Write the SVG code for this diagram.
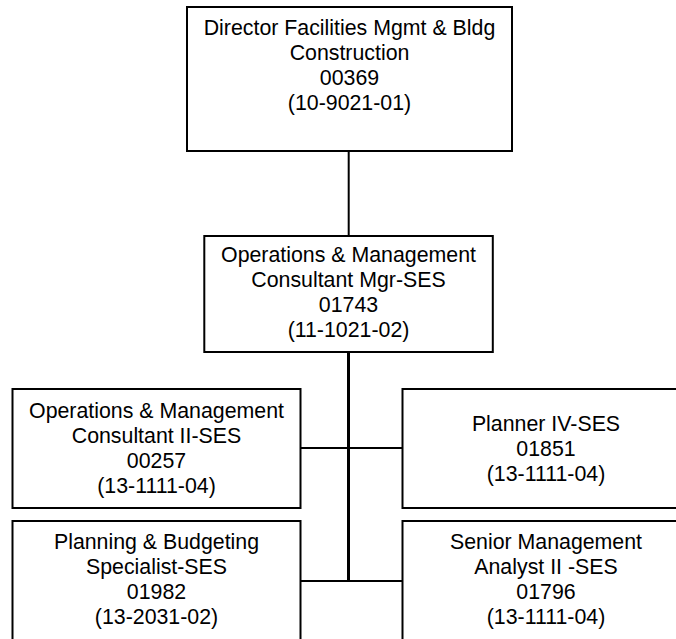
<svg xmlns="http://www.w3.org/2000/svg" width="676" height="639" viewBox="0 0 676 639">
  <style>
    .box { fill: #ffffff; stroke: #000000; stroke-width: 2; }
    .lbl { font-family: "Liberation Sans", Arial, sans-serif; font-size: 21.33px; fill: #000000; text-anchor: middle; }
    .conn { fill: none; stroke: #000000; stroke-width: 2; }
    .trunk { stroke-width: 3; }
  </style>
  <rect width="676" height="639" fill="#ffffff"/>

  <!-- reporting lines -->
  <g id="connectors">
    <line class="conn" x1="348.7" y1="151" x2="348.7" y2="236"/>
    <line class="conn trunk" x1="348.5" y1="352" x2="348.5" y2="581"/>
    <line class="conn" x1="300.5" y1="448" x2="402.5" y2="448"/>
    <line class="conn" x1="300.5" y1="581" x2="402.5" y2="581"/>
  </g>

  <g id="n00369">
    <rect class="box" x="187" y="7" width="325" height="144"/>
    <text class="lbl" x="349.5" y="35">Director Facilities Mgmt &amp; Bldg</text>
    <text class="lbl" x="349.5" y="60">Construction</text>
    <text class="lbl" x="349.5" y="85">00369</text>
    <text class="lbl" x="349.5" y="110">(10-9021-01)</text>
  </g>

  <g id="n01743">
    <rect class="box" x="204.3" y="236" width="288.5" height="116"/>
    <text class="lbl" x="348.5" y="262">Operations &amp; Management</text>
    <text class="lbl" x="348.5" y="287">Consultant Mgr-SES</text>
    <text class="lbl" x="348.5" y="312">01743</text>
    <text class="lbl" x="348.5" y="337">(11-1021-02)</text>
  </g>

  <g id="n00257">
    <rect class="box" x="12.5" y="389" width="288" height="119"/>
    <text class="lbl" x="156.5" y="418">Operations &amp; Management</text>
    <text class="lbl" x="156.5" y="443">Consultant II-SES</text>
    <text class="lbl" x="156.5" y="468">00257</text>
    <text class="lbl" x="156.5" y="493">(13-1111-04)</text>
  </g>

  <g id="n01851">
    <rect class="box" x="402.5" y="389" width="288" height="119"/>
    <text class="lbl" x="546" y="431">Planner IV-SES</text>
    <text class="lbl" x="546" y="456">01851</text>
    <text class="lbl" x="546" y="481">(13-1111-04)</text>
  </g>

  <g id="n01982">
    <rect class="box" x="12.5" y="521" width="288" height="119"/>
    <text class="lbl" x="156.5" y="549">Planning &amp; Budgeting</text>
    <text class="lbl" x="156.5" y="574">Specialist-SES</text>
    <text class="lbl" x="156.5" y="599">01982</text>
    <text class="lbl" x="156.5" y="624">(13-2031-02)</text>
  </g>

  <g id="n01796">
    <rect class="box" x="402.5" y="521" width="288" height="119"/>
    <text class="lbl" x="546" y="549">Senior Management</text>
    <text class="lbl" x="546" y="574">Analyst II -SES</text>
    <text class="lbl" x="546" y="599">01796</text>
    <text class="lbl" x="546" y="624">(13-1111-04)</text>
  </g>
</svg>
